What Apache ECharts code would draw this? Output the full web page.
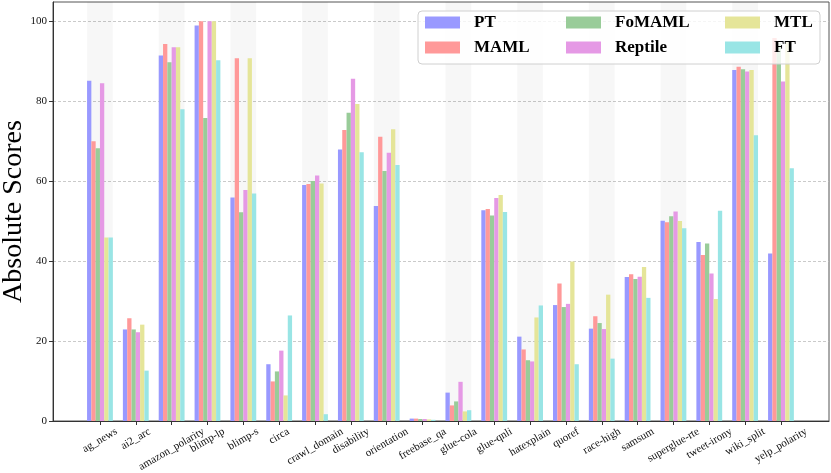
<!DOCTYPE html>
<html>
<head>
<meta charset="utf-8">
<script src="https://cdn.jsdelivr.net/npm/echarts@6/dist/echarts.min.js"></script>
<style>
  html, body { margin: 0; padding: 0; background: #fff; }
  #main { width: 831px; height: 473px; }
</style>
</head>
<body>
<div id="main"></div>
<script>
// task names along the x axis
var categories = ['ag_news', 'ai2_arc', 'amazon_polarity', 'blimp-lp', 'blimp-s', 'circa',
  'crawl_domain', 'disability', 'orientation', 'freebase_qa', 'glue-cola', 'glue-qnli',
  'hatexplain', 'quoref', 'race-high', 'samsum', 'superglue-rte', 'tweet-irony',
  'wiki_split', 'yelp_polarity'];

// scores per method
var PT      = [85.1, 22.9, 91.4, 98.9, 55.9, 14.2, 59.0, 67.9, 53.8, 0.6, 7.1, 52.7, 21.1, 29.0, 23.1, 36.0, 50.1, 44.8, 87.8, 41.9];
var MAML    = [70.0, 25.7, 94.3, 100.0, 90.7, 9.9, 59.3, 72.8, 71.1, 0.6, 3.9, 53.0, 17.9, 34.4, 26.2, 36.7, 49.7, 41.5, 88.6, 95.8];
var FoMAML  = [68.2, 22.9, 89.7, 75.8, 52.2, 12.4, 60.0, 77.1, 62.5, 0.5, 4.9, 51.4, 15.2, 28.5, 24.5, 35.5, 51.2, 44.4, 88.0, 94.5];
var Reptile = [84.5, 22.2, 93.5, 100.0, 57.8, 17.6, 61.4, 85.6, 67.1, 0.5, 9.8, 55.8, 14.9, 29.3, 23.0, 36.1, 52.4, 36.9, 87.4, 84.9];
var MTL     = [45.9, 24.1, 93.5, 100.0, 90.7, 6.4, 59.4, 79.3, 73.0, 0.4, 2.4, 56.5, 25.9, 39.9, 31.6, 38.5, 50.0, 30.5, 87.8, 94.8];
var FT      = [45.9, 12.6, 78.0, 90.2, 56.9, 26.4, 1.7, 67.2, 64.0, 0.3, 2.7, 52.3, 28.9, 14.2, 15.6, 30.8, 48.2, 52.6, 71.5, 63.2];

var yTicks = [0, 20, 40, 60, 80, 100];

var methods = [
  { name: 'PT', data: PT, color: '#9999ff' },
  { name: 'MAML', data: MAML, color: '#ff9999' },
  { name: 'FoMAML', data: FoMAML, color: '#99cc99' },
  { name: 'Reptile', data: Reptile, color: '#e599e5' },
  { name: 'MTL', data: MTL, color: '#e5e599' },
  { name: 'FT', data: FT, color: '#99e5e5' }
];

var serif = '"Liberation Serif", "DejaVu Serif", serif';
var xMin = -1.31, xMax = 20.34;
var gridLeft = 53, gridRight = 2;
var unitPx = (831 - gridLeft - gridRight) / (xMax - xMin);
var groupWidth = 0.72; // share of one category taken by the 6 bars

var myChart = echarts.init(document.getElementById('main'));

// rotated labels are centred on the tick, top of their box on one line (like matplotlib)
var ctx = document.createElement('canvas').getContext('2d');
ctx.font = '11px ' + serif;
var rich = {};
categories.forEach(function (c, i) {
  var s = ctx.measureText(c).width * 0.25;
  rich['l' + i] = {
    fontFamily: serif, fontSize: 11, color: '#111',
    padding: [1.732 * s, s, 0, 0]
  };
});

// light bands behind every other group
var bands = [];
for (var i = 0; i < categories.length; i += 2) {
  bands.push([{ xAxis: i - groupWidth / 2 }, { xAxis: i + groupWidth / 2 }]);
}

var series = [{
  type: 'line',
  data: [],
  silent: true,
  z: 1,
  markArea: {
    silent: true,
    itemStyle: { color: 'rgba(0,0,0,0.032)' },
    data: bands
  }
}];
methods.forEach(function (m) {
  series.push({
    name: m.name,
    type: 'bar',
    z: 2,
    barWidth: unitPx * groupWidth / methods.length,
    barGap: '0%',
    itemStyle: { color: m.color },
    data: m.data.map(function (v, i) { return [i, v]; })
  });
});

function legendCol(names, left) {
  return {
    data: names,
    orient: 'vertical',
    left: left,
    top: 14,
    padding: 0,
    itemGap: 8,
    itemWidth: 35,
    itemHeight: 12,
    icon: 'rect',
    z: 5,
    textStyle: {
      fontFamily: serif, fontSize: 17, fontWeight: 'bold', color: '#000',
      lineHeight: 17, padding: [0, 0, 0, 9]
    }
  };
}

var option = {
  animation: false,
  backgroundColor: '#fff',
  grid: {
    left: gridLeft, right: gridRight, top: 2, bottom: 52,
    outerBoundsMode: 'none',
    containLabel: false,
    show: true, borderColor: '#555', borderWidth: 1, backgroundColor: 'transparent'
  },
  graphic: [{
    type: 'rect',
    z: 3,
    shape: { x: 418, y: 11, width: 402, height: 53, r: 4 },
    style: { fill: 'rgba(255,255,255,0.8)', stroke: '#d0d0d0', lineWidth: 1 }
  }],
  legend: [
    legendCol(['PT', 'MAML'], 425),
    legendCol(['FoMAML', 'Reptile'], 566),
    legendCol(['MTL', 'FT'], 725)
  ],
  xAxis: {
    type: 'value',
    min: xMin,
    max: xMax,
    axisLine: { onZero: false, lineStyle: { color: '#333' } },
    axisTick: { show: true, length: 4, customValues: categories.map(function (c, i) { return i; }), lineStyle: { color: '#333' } },
    splitLine: { show: false },
    axisLabel: {
      customValues: categories.map(function (c, i) { return i; }),
      rotate: 30,
      align: 'center',
      verticalAlign: 'middle',
      margin: 9.7,
      formatter: function (v) {
        var i = Math.round(v);
        return '{l' + i + '|' + categories[i] + '}';
      },
      rich: rich
    }
  },
  yAxis: {
    type: 'value',
    min: 0,
    max: 104.8,
    name: 'Absolute Scores',
    nameLocation: 'middle',
    nameGap: 25,
    nameMoveOverlap: false,
    nameTextStyle: { fontFamily: serif, fontSize: 28, color: '#000' },
    axisLine: { show: true, onZero: false, lineStyle: { color: '#333' } },
    axisTick: { show: true, length: 4, customValues: yTicks, lineStyle: { color: '#333' } },
    axisLabel: {
      customValues: yTicks,
      margin: 6,
      fontFamily: serif, fontSize: 11, color: '#111'
    },
    splitLine: { lineStyle: { color: '#bdbdbd', type: [3, 2], width: 0.8 } }
  },
  series: series
};

myChart.setOption(option);
</script>
</body>
</html>
